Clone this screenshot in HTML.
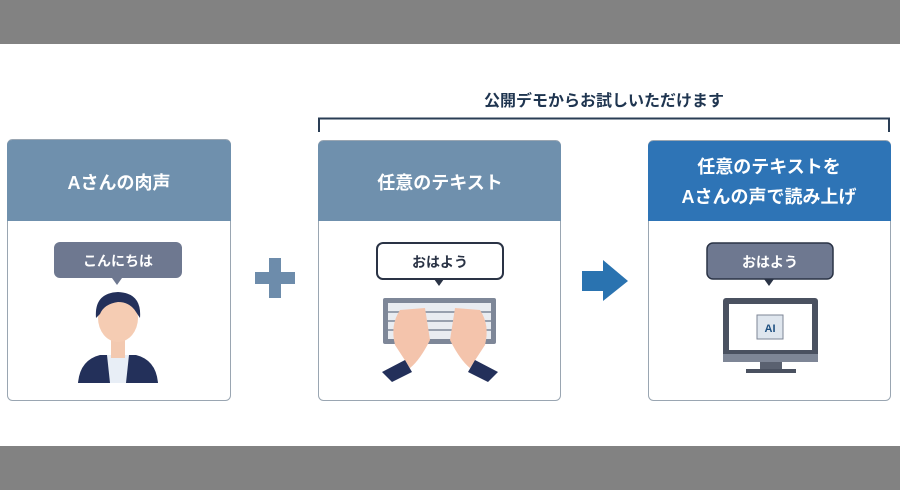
<!DOCTYPE html>
<html><head><meta charset="utf-8"><style>
body{margin:0;width:900px;height:490px;background:#fff;position:relative;overflow:hidden;font-family:"Liberation Sans","Noto Sans CJK JP",sans-serif;}
.bar{position:absolute;left:0;width:900px;height:44px;background:#828282;}
</style></head><body>
<div class="bar" style="top:0"></div>
<div class="bar" style="top:446px"></div>
<svg width="900" height="490" style="position:absolute;left:0;top:0" font-family="Liberation Sans, Noto Sans CJK JP, sans-serif" font-weight="bold">
<text x="604" y="106" text-anchor="middle" font-size="16" fill="#1f3550">公開デモからお試しいただけます</text>
<path d="M319 132 V118.5 H889 V132" fill="none" stroke="#2a3d55" stroke-width="2"/>
<rect x="7.5" y="139.5" width="223" height="261" rx="5" fill="#fff" stroke="#9aa6b2"/>
<path d="M7 145 a5 5 0 0 1 5 -5 H226 a5 5 0 0 1 5 5 V221 H7Z" fill="#6f90ad"/>
<text x="119" y="189" text-anchor="middle" font-size="18" fill="#fff">Aさんの肉声</text>
<rect x="54" y="242" width="128" height="36" rx="6" fill="#6e7890"/>
<path d="M112 278 L117 285 L122 278Z" fill="#6e7890"/>
<text x="118" y="266" text-anchor="middle" font-size="14" fill="#fff">こんにちは</text>
<path d="M78 383 Q80 360 100 355 L136 355 Q156 360 158 383Z" fill="#23305a"/>
<path d="M107 355 L129 355 L126 383 L110 383Z" fill="#e8eef6"/>
<rect x="111" y="340" width="14" height="18" fill="#f3c9b0"/>
<ellipse cx="118" cy="318" rx="20" ry="24" fill="#f5ccb3"/>
<path d="M96 318 Q94 293 118 292 Q142 293 140 318 L136 312 Q130 302 118 302 Q104 304 100 314Z" fill="#23305a"/>
<rect x="255" y="272" width="40" height="12" fill="#6d8cab"/>
<rect x="269" y="258" width="12" height="40" fill="#6d8cab"/>
<rect x="318.5" y="140.5" width="242" height="260" rx="5" fill="#fff" stroke="#9aa6b2"/>
<path d="M318 146 a5 5 0 0 1 5 -5 H556 a5 5 0 0 1 5 5 V221 H318Z" fill="#6f90ad"/>
<text x="440" y="189" text-anchor="middle" font-size="18" fill="#fff">任意のテキスト</text>
<rect x="377" y="243" width="126" height="36" rx="6" fill="#fff" stroke="#2a3345" stroke-width="2"/>
<path d="M434 279 L439 286 L444 279Z" fill="#2a3345"/>
<text x="440" y="267" text-anchor="middle" font-size="14" fill="#2a3345">おはよう</text>
<rect x="383" y="298" width="113" height="46" rx="2" fill="#7e8798"/>
<rect x="388" y="303" width="103" height="36" fill="#e9ecf1"/>
<g stroke="#7e8798" stroke-width="1.5"><path d="M388 312H491M388 321H491M388 330H491"/></g>
<path d="M395 345 Q390 325 400 310 L425 308 L430 340 Q420 360 410 368Z" fill="#f4c4ac"/>
<path d="M485 345 Q490 325 480 310 L455 308 L450 340 Q460 360 470 368Z" fill="#f4c4ac"/>
<path d="M382 372 L405 360 L412 372 L392 382Z" fill="#23305a"/>
<path d="M498 372 L475 360 L468 372 L488 382Z" fill="#23305a"/>
<path d="M582 271 H603 V260 L628 281 L603 301 V291 H582Z" fill="#2a73b0"/>
<rect x="648.5" y="140.5" width="242" height="260" rx="5" fill="#fff" stroke="#9aa6b2"/>
<path d="M648 146 a5 5 0 0 1 5 -5 H886 a5 5 0 0 1 5 5 V221 H648Z" fill="#2e74b6"/>
<text x="769" y="173" text-anchor="middle" font-size="18" fill="#fff">任意のテキストを</text>
<text x="769" y="203" text-anchor="middle" font-size="18" fill="#fff">Aさんの声で読み上げ</text>
<rect x="707" y="243" width="126" height="36" rx="6" fill="#6e7890" stroke="#2a3345" stroke-width="1.5"/>
<path d="M764 279 L769 286 L774 279Z" fill="#2a3345"/>
<text x="770" y="267" text-anchor="middle" font-size="14" fill="#fff">おはよう</text>
<rect x="723" y="298" width="95" height="64" rx="3" fill="#4a5160"/>
<rect x="729" y="304" width="83" height="46" fill="#fff"/>
<rect x="723" y="354" width="95" height="8" fill="#7e8696"/>
<rect x="760" y="362" width="22" height="8" fill="#5a6170"/>
<rect x="746" y="369" width="50" height="4" fill="#4a5160"/>
<rect x="757" y="315" width="26" height="24" fill="#dfe6ee" stroke="#7e8696"/>
<text x="770" y="332" text-anchor="middle" font-size="11" fill="#1d4f80">AI</text>
</svg>
</body></html>
